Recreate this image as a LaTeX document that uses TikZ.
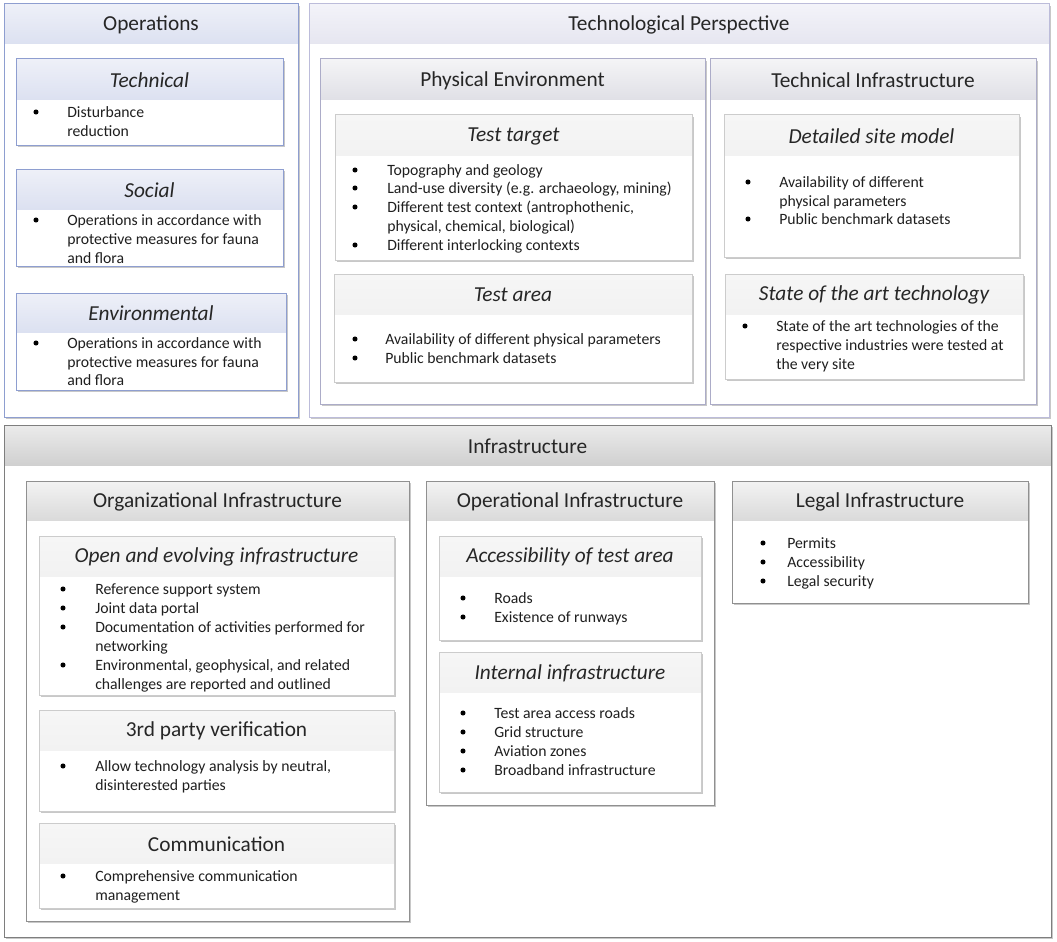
\documentclass[tikz,border=0pt]{standalone}
\usepackage{fontspec}
\setmainfont{Carlito}
\usetikzlibrary{calc}
\definecolor{opsL}{HTML}{8E9ED0}
\definecolor{opsT}{HTML}{EEF0F8}
\definecolor{opsB}{HTML}{DCE1F1}
\definecolor{tpL}{HTML}{BCBCDA}
\definecolor{tpT}{HTML}{F3F3F9}
\definecolor{tpB}{HTML}{E6E6F0}
\definecolor{tmL}{HTML}{ACACC8}
\definecolor{tmT}{HTML}{F4F4F6}
\definecolor{tmB}{HTML}{E0E0E6}
\definecolor{inL}{HTML}{CCCCCC}
\definecolor{inT}{HTML}{F6F6F6}
\definecolor{inB}{HTML}{F2F2F2}
\definecolor{ifL}{HTML}{7E7E7E}
\definecolor{ifT}{HTML}{EBEBEB}
\definecolor{ifB}{HTML}{D0D0D0}
\definecolor{imL}{HTML}{909090}
\definecolor{imT}{HTML}{F3F3F3}
\definecolor{imB}{HTML}{DADADA}
\definecolor{shd}{HTML}{C8C8C8}
\newcount\tcnt
\tikzset{
  x=0.75pt, y=-0.75pt,
  opsline/.style={draw=opsL, line width=0.75pt},
  opshead/.style={top color=opsT, bottom color=opsB},
  tpline/.style={draw=tpL, line width=0.75pt},
  tphead/.style={top color=tpT, bottom color=tpB},
  tmline/.style={draw=tmL, line width=0.75pt},
  tmhead/.style={top color=tmT, bottom color=tmB},
  inline/.style={draw=inL, line width=0.75pt},
  inhead/.style={top color=inT, bottom color=inB},
  ifline/.style={draw=ifL, line width=0.75pt},
  ifhead/.style={top color=ifT, bottom color=ifB},
  imline/.style={draw=imL, line width=0.75pt},
  imhead/.style={top color=imT, bottom color=imB},
  shadowbox/.style={fill=shd},
  title/.style={inner sep=0pt, font=\fontsize{16}{18}\selectfont, text=black!85},
  ititle/.style={title, font=\fontsize{16}{18}\selectfont\itshape},
  itemtxt/.style={inner sep=0pt, anchor=base west, font=\fontsize{11.8}{13}\selectfont, text=black!88},
  bul/.style={fill=black, circle, inner sep=0pt, minimum size=3.8pt},
}
% name, x1, y1, x2, y2, header height, kind, title style, title
\newcommand\pbox[9]{%
  \fill[shadowbox] (#2+2,#3+2) rectangle (#4+2,#5+2);
  \fill[white] (#2,#3) rectangle (#4,#5);
  \fill[#7head] (#2,#3) rectangle (#4,#3+#6);
  \draw[#7line] (#2,#3) rectangle (#4,#5);
  \node[#8] (#1) at ({(#2+#4)/2},{#3+#6/2+1}) {#9};
}
% bullet x, text x, y center, text
\newcommand\bitem[4]{%
  \global\advance\tcnt by 1
  \node[bul] (b\the\tcnt) at (#1,#3) {};
  \node[itemtxt] (t\the\tcnt) at (#2,#3+5.5) {#4};
}
\newcommand\litem[3]{%
  \global\advance\tcnt by 1
  \node[itemtxt] (t\the\tcnt) at (#1,#2+5.5) {#3};
}
\begin{document}
\begin{tikzpicture}
\useasboundingbox (0,0) rectangle (1057,942);
\fill[white] (0,0) rectangle (1057,942);

% ---------------- Operations
\pbox{ops}{4}{4}{298}{417}{40}{ops}{title}{Operations}
\pbox{technical}{16}{59}{283}{145}{41}{ops}{ititle}{Technical}
\bitem{36}{67}{112}{Disturbance}
\litem{67}{131}{reduction}
\pbox{social}{16}{169}{283}{266}{40}{ops}{ititle}{Social}
\bitem{36}{67}{220}{Operations in accordance with}
\litem{67}{239}{protective measures for fauna}
\litem{67}{258}{and flora}
\pbox{environmental}{16}{293}{286}{390}{39}{ops}{ititle}{Environmental}
\bitem{36}{67}{343}{Operations in accordance with}
\litem{67}{362}{protective measures for fauna}
\litem{67}{380}{and flora}

% ---------------- Technological Perspective
\pbox{techp}{309}{4}{1049}{417}{40}{tp}{title}{Technological Perspective}
\pbox{physenv}{320}{59}{705}{404}{41}{tm}{title}{Physical Environment}
\pbox{testtarget}{335}{115}{692}{260}{40}{in}{ititle}{Test target}
\bitem{355}{387}{170}{Topography and geology}
\bitem{355}{387}{188}{Land-use diversity (e.g. archaeology, mining)}
\bitem{355}{387}{207}{Different test context (antrophothenic,}
\litem{387}{226}{physical, chemical, biological)}
\bitem{355}{387}{245}{Different interlocking contexts}
\pbox{testarea}{334}{274}{692}{382}{40}{in}{ititle}{Test area}
\bitem{355}{385}{339}{Availability of different physical parameters}
\bitem{355}{385}{358}{Public benchmark datasets}

\pbox{techinf}{710}{59}{1036}{404}{41}{tm}{title}{Technical Infrastructure}
\pbox{sitemodel}{724}{115}{1019}{257}{40}{in}{ititle}{Detailed site model}
\bitem{748}{779}{182}{Availability of different}
\litem{779}{201}{physical parameters}
\bitem{748}{779}{219}{Public benchmark datasets}
\pbox{stateart}{725}{274}{1023}{379}{40}{in}{ititle}{State of the art technology}
\bitem{745}{776}{326}{State of the art technologies of the}
\litem{776}{345}{respective industries were tested at}
\litem{776}{364}{the very site}

% ---------------- Infrastructure
\pbox{infra}{4}{425}{1051}{937}{40}{if}{title}{Infrastructure}
\pbox{orginf}{26}{481}{409}{921}{39}{im}{title}{Organizational Infrastructure}
\pbox{openevo}{39}{536}{394}{695}{40}{in}{ititle}{Open and evolving infrastructure}
\bitem{63}{95}{589}{Reference support system}
\bitem{63}{95}{608}{Joint data portal}
\bitem{63}{95}{627}{Documentation of activities performed for}
\litem{95}{646}{networking}
\bitem{63}{95}{665}{Environmental, geophysical, and related}
\litem{95}{684}{challenges are reported and outlined}
\pbox{thirdparty}{39}{710}{394}{811}{40}{in}{title}{3rd party verification}
\bitem{63}{95}{766}{Allow technology analysis by neutral,}
\litem{95}{785}{disinterested parties}
\pbox{communication}{39}{823}{394}{908}{40}{in}{title}{Communication}
\bitem{63}{95}{876}{Comprehensive communication}
\litem{95}{895}{management}

\pbox{opinf}{426}{481}{714}{805}{39}{im}{title}{Operational Infrastructure}
\pbox{access}{439}{536}{701}{640}{40}{in}{ititle}{Accessibility of test area}
\bitem{463}{494}{598}{Roads}
\bitem{463}{494}{617}{Existence of runways}
\pbox{internal}{439}{652}{701}{792}{40}{in}{ititle}{Internal infrastructure}
\bitem{463}{494}{713}{Test area access roads}
\bitem{463}{494}{732}{Grid structure}
\bitem{463}{494}{751}{Aviation zones}
\bitem{463}{494}{770}{Broadband infrastructure}

\pbox{legal}{732}{481}{1028}{603}{39}{im}{title}{Legal Infrastructure}
\bitem{763}{787}{543}{Permits}
\bitem{763}{787}{562}{Accessibility}
\bitem{763}{787}{581}{Legal security}
\end{tikzpicture}
\end{document}
